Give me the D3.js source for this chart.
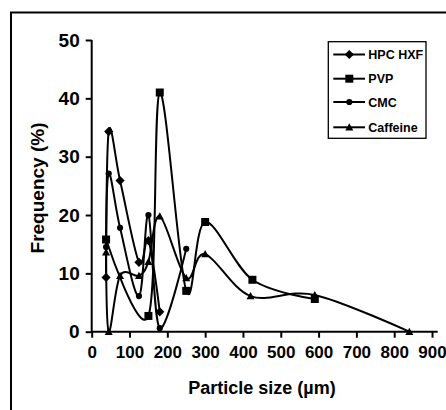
<!DOCTYPE html>
<html><head><meta charset="utf-8">
<script src="https://cdn.jsdelivr.net/npm/d3@7"></script>
<style>body{margin:0;background:#fff}svg{display:block}</style>
</head><body>
<svg id="c" width="446" height="410"></svg>
<script>
// ---- data ----
const seriesNames = ["HPC HXF", "PVP", "CMC", "Caffeine"];
const hpcX = [38, 45, 75, 125, 150, 180];
const hpcY = [9.3, 34.3, 25.9, 11.9, 15.6, 3.4];
const pvpX = [38, 150, 180, 250, 300, 425, 590];
const pvpY = [15.8, 2.7, 41.0, 7.0, 18.8, 8.9, 5.6];
const cmcX = [38, 45, 75, 125, 150, 180, 250];
const cmcY = [14.5, 27.1, 17.8, 6.1, 20.0, 0.6, 14.2];
const cafX = [38, 45, 75, 125, 150, 180, 250, 300, 420, 590, 840];
const cafY = [13.6, 0, 9.6, 9.6, 12.0, 19.8, 9.2, 13.3, 6.1, 6.3, 0];
const xTicks = [0, 100, 200, 300, 400, 500, 600, 700, 800, 900];
const yTicks = [0, 10, 20, 30, 40, 50];
const xTitle = "Particle size (µm)";
const yTitle = "Frequency (%)";

const svg = d3.select("#c");
const x = d3.scaleLinear().domain([0, 915]).range([91.7, 437.7]);
const y = d3.scaleLinear().domain([0, 50]).range([331.7, 40]);
const font = "'Liberation Sans', Arial, sans-serif";

// outer frame
svg.append("rect").attr("x", 11).attr("y", 12.5).attr("width", 460).attr("height", 420)
  .attr("fill", "none").attr("stroke", "#000").attr("stroke-width", 2);

// axes
const yAxis = d3.axisLeft(y).tickValues(yTicks).tickSize(6).tickPadding(6).tickFormat(d3.format("d"));
const xAxis = d3.axisBottom(x).tickValues(xTicks).tickSize(6).tickPadding(6).tickFormat(d3.format("d"));
const gy = svg.append("g").attr("transform", `translate(${x(0)},0)`).call(yAxis);
const gx = svg.append("g").attr("transform", `translate(0,${y(0)})`).call(xAxis);
[gy, gx].forEach(g => {
  g.select(".domain").attr("stroke", "#000").attr("stroke-width", 2);
  g.selectAll(".tick line").attr("stroke", "#000").attr("stroke-width", 2);
  g.selectAll(".tick text").attr("fill", "#000").attr("font-family", font).attr("font-weight", "bold");
});
gy.select(".domain").attr("d", `M0,${y(50)}V${y(0)}`);
gx.select(".domain").attr("d", `M${x(0)},0H${x(915)}`);
gy.selectAll(".tick text").attr("font-size", 19).attr("x", -12);
gx.selectAll(".tick text").attr("font-size", 17).attr("dy", "0.71em").attr("y", 14);

// titles
svg.append("text").attr("transform", `translate(44,188) rotate(-90)`)
  .attr("text-anchor", "middle").attr("font-family", font).attr("font-weight", "bold")
  .attr("font-size", 19).text(yTitle);
svg.append("text").attr("x", 262).attr("y", 394)
  .attr("text-anchor", "middle").attr("font-family", font).attr("font-weight", "bold")
  .attr("font-size", 18).text(xTitle);

// markers
const markers = {
  "HPC HXF": "M0,-4.6L4.6,0L0,4.6L-4.6,0Z",
  "PVP": "M-4,-4H4V4H-4Z",
  "CMC": d3.symbol(d3.symbolCircle, 30)(),
  "Caffeine": "M0,-4L4,3.2H-4Z"
};

const series = [
  {name: "HPC HXF", xs: hpcX, ys: hpcY},
  {name: "PVP", xs: pvpX, ys: pvpY},
  {name: "CMC", xs: cmcX, ys: cmcY},
  {name: "Caffeine", xs: cafX, ys: cafY}
];
const line = d3.line().x(d => x(d[0])).y(d => y(d[1])).curve(d3.curveCatmullRom.alpha(0));
series.forEach(s => {
  const pts = s.xs.map((v, i) => [v, s.ys[i]]);
  svg.append("path").attr("d", line(pts)).attr("fill", "none")
    .attr("stroke", "#000").attr("stroke-width", 2);
  svg.append("g").selectAll("path").data(pts).join("path")
    .attr("transform", d => `translate(${x(d[0])},${y(d[1])})`)
    .attr("d", markers[s.name]).attr("fill", "#000");
});

// legend
const lg = svg.append("g");
lg.append("rect").attr("x", 328.3).attr("y", 41.7).attr("width", 97.7).attr("height", 96.6)
  .attr("fill", "#fff").attr("stroke", "#000").attr("stroke-width", 1.3);
const ly = [54.5, 78.7, 102, 127.3];
seriesNames.forEach((n, i) => {
  lg.append("line").attr("x1", 333.3).attr("x2", 365).attr("y1", ly[i]).attr("y2", ly[i])
    .attr("stroke", "#000").attr("stroke-width", 2);
  lg.append("path").attr("transform", `translate(349.3,${ly[i]})`).attr("d", markers[n]).attr("fill", "#000");
  lg.append("text").attr("x", 368.3).attr("y", ly[i]).attr("dy", "0.36em")
    .attr("font-family", font).attr("font-weight", "bold").attr("font-size", 12.5).text(n);
});
</script>
</body></html>
